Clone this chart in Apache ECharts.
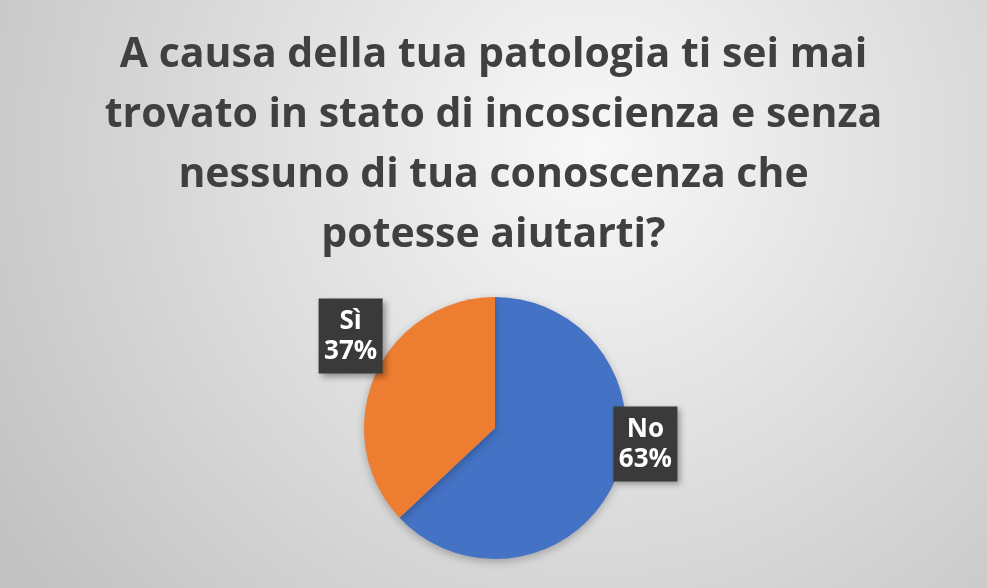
<!DOCTYPE html>
<html>
<head>
<meta charset="utf-8">
<script src="https://cdn.jsdelivr.net/npm/echarts@6/dist/echarts.min.js"></script>
<style>
  html, body { margin: 0; padding: 0; }
  #chart { width: 987px; height: 588px; }
</style>
</head>
<body>
<div id="chart"></div>
<script>
// answers and share of respondents (%)
const answers = ['No', 'Sì'];
const shares = [63, 37];
const sliceColors = ['#4472C4', '#ED7D31'];
const titleText = 'A causa della tua patologia ti sei mai\ntrovato in stato di incoscienza e senza\nnessuno di tua conoscenza che\npotesse aiutarti?';

// nudges for the data label boxes, by slice
const labelShift = [
  { dx: -16, dy: -40 },
  { dx: 22, dy: -36 },
];

const chart = echarts.init(document.getElementById('chart'));

const option = {
  backgroundColor: {
    type: 'radial',
    x: 0.6,
    y: 0.25,
    r: 1.2,
    colorStops: [
      { offset: 0, color: '#f8f8f8' },
      { offset: 1, color: '#c2c2c2' },
    ],
  },
  title: {
    text: titleText,
    left: 'center',
    top: 20,
    textStyle: {
      fontFamily: 'Open Sans',
      fontWeight: 'bold',
      fontSize: 41,
      lineHeight: 60,
      color: '#404040',
    },
  },
  series: [
    {
      type: 'pie',
      center: [495, 428],
      radius: 131,
      startAngle: 90,
      clockwise: true,
      silent: true,
      itemStyle: {
        shadowBlur: 8,
        shadowColor: 'rgba(0,0,0,0.25)',
        shadowOffsetY: 3,
      },
      label: {
        show: true,
        position: 'outside',
        formatter: '{t|{b}}\n{t|{d}%}',
        backgroundColor: '#3a3a3a',
        padding: [8, 6, 7, 6],
        shadowBlur: 6,
        shadowOffsetX: 3,
        shadowOffsetY: 3,
        shadowColor: 'rgba(0,0,0,0.35)',
        rich: {
          t: {
            width: 52,
            align: 'center',
            fontFamily: 'Open Sans',
            fontWeight: 'bold',
            fontSize: 26,
            lineHeight: 30,
            color: '#ffffff',
          },
        },
      },
      labelLine: { show: false, length: 10, length2: 0 },
      labelLayout: params => labelShift[params.dataIndex],
      data: answers.map((name, i) => ({
        name,
        value: shares[i],
        itemStyle: { color: sliceColors[i] },
      })),
    },
  ],
};

chart.setOption(option);
</script>
</body>
</html>
